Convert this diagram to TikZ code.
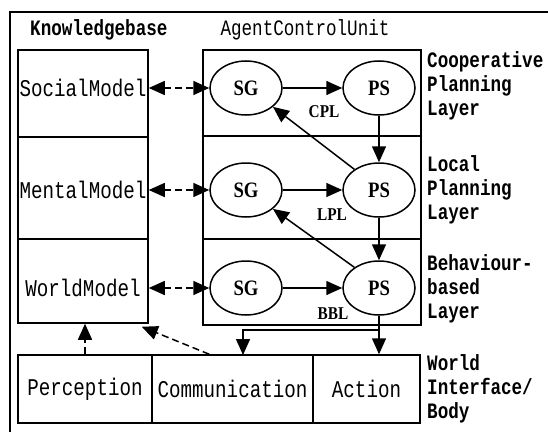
\documentclass[tikz,border=0pt]{standalone}
\usepackage{fontspec}
\usepackage{tikz}
\usetikzlibrary{arrows.meta, positioning, calc, shapes.geometric}
\newfontfamily\boxfont[FakeStretch=0.8]{Liberation Mono}
\newfontfamily\ovalfont[FakeStretch=0.85]{Liberation Serif}
\tikzset{
  kbbox/.style={rectangle, draw, line width=1.5pt, minimum width=130pt, inner sep=0pt},
  layerbox/.style={rectangle, draw, line width=1.5pt, minimum width=218pt, inner sep=0pt},
  iobox/.style={rectangle, draw, line width=1.5pt, minimum height=68pt, inner sep=0pt,
    font={\boxfont\fontsize{24}{26}\selectfont}},
  oval/.style={ellipse, draw, line width=1.5pt, minimum width=72pt, minimum height=54pt,
    inner sep=0pt, fill=white, font={\ovalfont\bfseries\fontsize{22}{24}\selectfont}},
  lbl/.style={inner sep=0pt, font={\boxfont\fontsize{24}{26}\selectfont}},
  headlbl/.style={inner sep=0pt, font={\boxfont\fontsize{22}{24}\selectfont}},
  sidelbl/.style={anchor=west, align=left, inner sep=0pt,
    font={\boxfont\bfseries\fontsize{22}{24}\selectfont}},
  tag/.style={inner sep=0pt, font={\ovalfont\bfseries\fontsize{18}{20}\selectfont}},
  arrow/.style={-{Triangle[length=16pt,width=14pt]}, line width=1.5pt},
  dasharrow/.style={arrow, dash pattern=on 7pt off 4pt},
  dblarrow/.style={{Triangle[length=16pt,width=14pt]}-{Triangle[length=16pt,width=14pt]},
    line width=1.5pt, dash pattern=on 7pt off 4pt}
}

\begin{document}
\begin{tikzpicture}[x=1pt, y=1pt]
  \useasboundingbox (0,0) rectangle (548,432);
  % outer frame
  \draw[line width=1.8pt] (548,420) -- (10,420) -- (10,0);

  % headers
  \node[headlbl, font={\boxfont\bfseries\fontsize{22}{24}\selectfont}, anchor=west] (kbhead) at (30,402) {Knowledgebase};
  \node[headlbl] (achead) at (305,402) {AgentControlUnit};

  % Knowledgebase
  \node[kbbox, minimum height=87pt] (kb1) at (83,338.5) {};
  \node[kbbox, minimum height=102pt] (kb2) at (83,244) {};
  \node[kbbox, minimum height=84pt] (kb3) at (83,151) {};
  \node[lbl] (social) at (83,344) {SocialModel};
  \node[lbl] (mental) at (83,242) {MentalModel};
  \node[lbl] (world) at (83,144) {WorldModel};

  % Agent control unit layers
  \node[layerbox, minimum height=86pt] (lay1) at (312,339) {};
  \node[layerbox, minimum height=103pt] (lay2) at (312,244.5) {};
  \node[layerbox, minimum height=86pt] (lay3) at (312,150) {};

  % goals and plans
  \node[oval] (sg1) at (246,344) {SG};
  \node[oval] (ps1) at (379,344) {PS};
  \node[oval] (sg2) at (246,242) {SG};
  \node[oval] (ps2) at (379,242) {PS};
  \node[oval] (sg3) at (246,144) {SG};
  \node[oval] (ps3) at (379,144) {PS};
  \node[tag] (cpl) at (324,320) {CPL};
  \node[tag] (lpl) at (332,217) {LPL};
  \node[tag] (bbl) at (333,118) {BBL};

  % world interface
  \node[iobox, minimum width=134pt] (perc) at (85,43) {Perception};
  \node[iobox, minimum width=161pt] (comm) at (232.5,43) {Communication};
  \node[iobox, minimum width=107pt] (act) at (366.5,43) {Action};

  % layer names
  \node[sidelbl] (coop) at (427,346) {Cooperative\\Planning\\Layer};
  \node[sidelbl] (local) at (427,242) {Local\\Planning\\Layer};
  \node[sidelbl] (behav) at (427,143) {Behaviour-\\based\\Layer};
  \node[sidelbl] (body) at (427,43) {World\\Interface/\\Body};

  % connectors
  \foreach \i in {1,2,3} {
    \draw[arrow] (sg\i) -- (ps\i);
    \draw[dblarrow] (kb\i.east |- sg\i) -- (sg\i.west);
  }
  \draw[arrow] (ps1) -- (ps2);
  \draw[arrow] (ps2) -- (ps3);
  \draw[arrow] (ps2.140) -- (sg1.-35);
  \draw[arrow] (ps3.140) -- (sg2.-35);

  \draw[arrow] (ps3) -- (ps3 |- act.north);
  \coordinate (split) at (379,102);
  \coordinate (commin) at (243,77);
  \draw[arrow] (split) -| (commin);
  \draw[dasharrow] ($(comm.north west)+(58,0)$) -- ($(kb3.south east)+(-7,-3)$);
  \draw[dasharrow] (perc.north) -- (perc.north |- kb3.south);
\end{tikzpicture}
\end{document}
